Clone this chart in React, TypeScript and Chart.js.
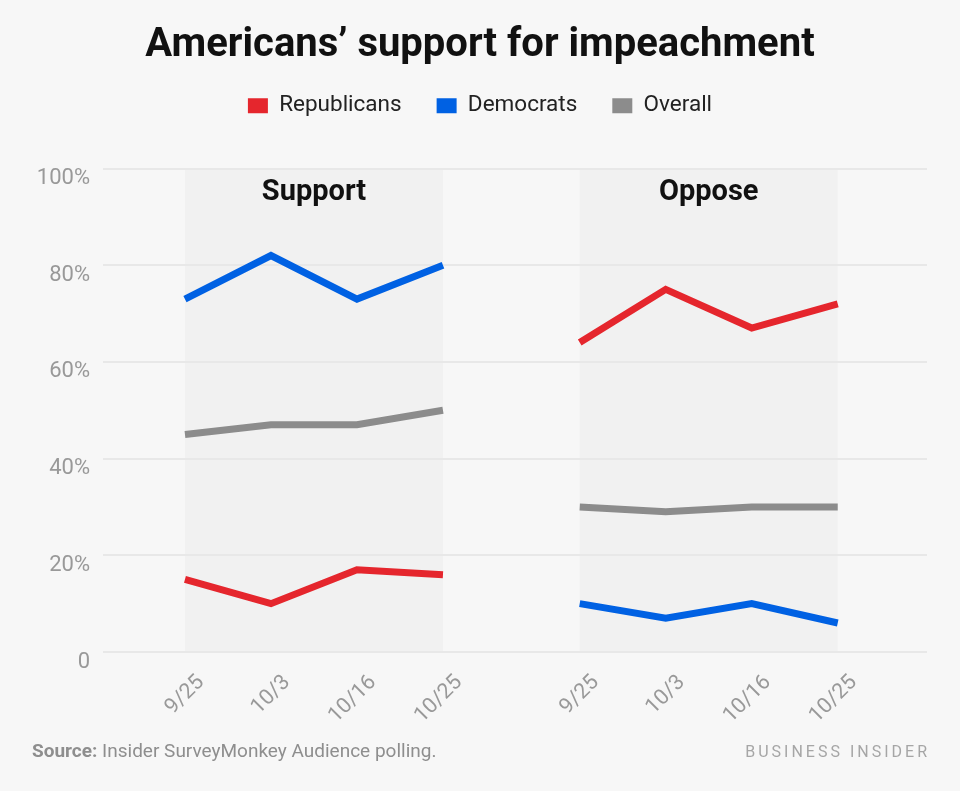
import React, { useEffect, useRef } from 'react';
import { Chart, registerables } from 'chart.js';

Chart.register(...registerables);

const chartTitle = 'Americans\u2019 support for impeachment';
const dates = ['9/25', '10/3', '10/16', '10/25'];
const panelTitles = ['Support', 'Oppose'];
const seriesNames = ['Republicans', 'Democrats', 'Overall'];
const republicansSupport = [15, 10, 17, 16];
const republicansOppose = [64, 75, 67, 72];
const democratsSupport = [73, 82, 73, 80];
const democratsOppose = [10, 7, 10, 6];
const overallSupport = [45, 47, 47, 50];
const overallOppose = [30, 29, 30, 30];
const yTickValues = [0, 20, 40, 60, 80, 100];
const sourceLabel = 'Source:';
const sourceText = ' Insider SurveyMonkey Audience polling.';
const brandText = 'BUSINESS INSIDER';

const COLORS = ['#e5262d', '#0061e3', '#8c8c8c'];
const BG = '#f7f7f7';
const BAND = '#f1f1f1';
const FONT = 'Roboto, "Noto Sans", sans-serif';
const OPPOSE_OFFSET = 4.59;

const xSupport = dates.map((_, i) => i);
const xOppose = dates.map((_, i) => i + OPPOSE_OFFSET);

function toPoints(support: number[], oppose: number[]) {
  return [
    ...support.map((y, i) => ({ x: xSupport[i], y })),
    { x: (xSupport[xSupport.length - 1] + xOppose[0]) / 2, y: null as any },
    ...oppose.map((y, i) => ({ x: xOppose[i], y })),
  ];
}

const seriesData = [
  toPoints(republicansSupport, republicansOppose),
  toPoints(democratsSupport, democratsOppose),
  toPoints(overallSupport, overallOppose),
];

const decorPlugin = {
  id: 'decor',
  afterInit(chart: any) {
    const lg = chart.legend;
    if (lg) {
      const orig = lg.fit;
      lg.fit = function () {
        orig.call(this);
        this.height += 41.6;
      };
    }
  },
  beforeDraw(chart: any) {
    const { ctx, chartArea, scales } = chart;
    ctx.save();
    ctx.fillStyle = BG;
    ctx.fillRect(0, 0, chart.width, chart.height);
    ctx.fillStyle = BAND;
    [xSupport, xOppose].forEach((xs) => {
      const l = scales.x.getPixelForValue(xs[0]);
      const r = scales.x.getPixelForValue(xs[xs.length - 1]);
      ctx.fillRect(l, chartArea.top, r - l, chartArea.bottom - chartArea.top);
    });
    ctx.restore();
  },
  beforeDatasetsDraw(chart: any) {
    const { ctx, chartArea, scales } = chart;
    ctx.save();
    ctx.fillStyle = '#111';
    ctx.font = `bold 29px ${FONT}`;
    ctx.textAlign = 'center';
    ctx.textBaseline = 'middle';
    [xSupport, xOppose].forEach((xs, i) => {
      const l = scales.x.getPixelForValue(xs[0]);
      const r = scales.x.getPixelForValue(xs[xs.length - 1]);
      ctx.fillText(panelTitles[i], (l + r) / 2, chartArea.top + 24);
    });
    ctx.restore();
  },
  afterDraw(chart: any) {
    const { ctx } = chart;
    ctx.save();
    ctx.textBaseline = 'middle';
    ctx.textAlign = 'left';
    ctx.fillStyle = '#8e8e8e';
    ctx.font = `bold 19px ${FONT}`;
    ctx.fillText(sourceLabel, 32, 752);
    const w = ctx.measureText(sourceLabel).width;
    ctx.font = `19px ${FONT}`;
    ctx.fillText(sourceText, 32 + w, 752);
    ctx.fillStyle = '#a6a6a6';
    ctx.font = `16px ${FONT}`;
    (ctx as any).letterSpacing = '3px';
    ctx.textAlign = 'right';
    ctx.fillText(brandText, 930, 753);
    ctx.restore();
  },
};

export default function App() {
  const ref = useRef<HTMLCanvasElement>(null);
  useEffect(() => {
    document.body.style.margin = '0';
    document.body.style.background = BG;
    const canvas = ref.current!;
    const chart = new Chart(canvas, {
      type: 'line',
      data: {
        datasets: seriesNames.map((name, i) => ({
          label: name,
          data: seriesData[i],
          borderColor: COLORS[i],
          backgroundColor: COLORS[i],
          borderWidth: 7,
          pointRadius: 0,
          tension: 0,
          spanGaps: false,
          borderJoinStyle: 'miter' as const,
          borderCapStyle: 'butt' as const,
        })),
      },
      options: {
        animation: false,
        responsive: false,
        events: [],
        layout: { padding: { left: 33, right: 33, top: 0, bottom: 0 } },
        plugins: {
          tooltip: { enabled: false },
          title: {
            display: true,
            text: chartTitle,
            color: '#111',
            font: { family: FONT, size: 40, weight: 'bold', lineHeight: 0.67 },
            padding: { top: 32.6, bottom: 0 },
          },
          legend: {
            display: true,
            labels: {
              boxWidth: 20,
              boxHeight: 15,
              padding: 35,
              color: '#222',
              font: { family: FONT, size: 22.5 },
              generateLabels(chart: any) {
                const items = Chart.defaults.plugins.legend.labels.generateLabels(chart);
                return items.map((it: any, i: number) => ({
                  ...it,
                  fillStyle: COLORS[i],
                  strokeStyle: COLORS[i],
                  lineWidth: 0,
                }));
              },
            },
          },
        },
        scales: {
          x: {
            type: 'linear',
            min: -0.953,
            max: 8.628,
            grid: { display: false },
            border: { display: false },
            afterBuildTicks(scale: any) {
              scale.ticks = [...xSupport, ...xOppose].map((v) => ({ value: v }));
            },
            afterFit(scale: any) {
              scale.height = 139;
            },
            ticks: {
              autoSkip: false,
              minRotation: 45,
              maxRotation: 45,
              labelOffset: 16,
              padding: 10,
              color: '#999',
              font: { family: FONT, size: 21.5 },
              callback: (_v: any, idx: number) => dates[idx % dates.length],
            },
          },
          y: {
            min: 0,
            max: 100,
            border: { display: false },
            grid: { color: '#e8e8e8', lineWidth: 2, drawTicks: false },
            afterBuildTicks(scale: any) {
              scale.ticks = yTickValues.map((v) => ({ value: v }));
            },
            afterFit(scale: any) {
              scale.width = 70;
            },
            ticks: {
              padding: 13,
              labelOffset: 10,
              color: '#999',
              font: { family: FONT, size: 22 },
              callback: (v: any) => (v === 0 ? '0' : `${v}%`),
            },
          },
        },
      },
      plugins: [decorPlugin],
    } as any);
    return () => chart.destroy();
  }, []);
  return (
    <div style={{ width: 960, height: 791, background: BG }}>
      <canvas ref={ref} width={960} height={791} style={{ display: 'block', width: 960, height: 791 }} />
    </div>
  );
}
